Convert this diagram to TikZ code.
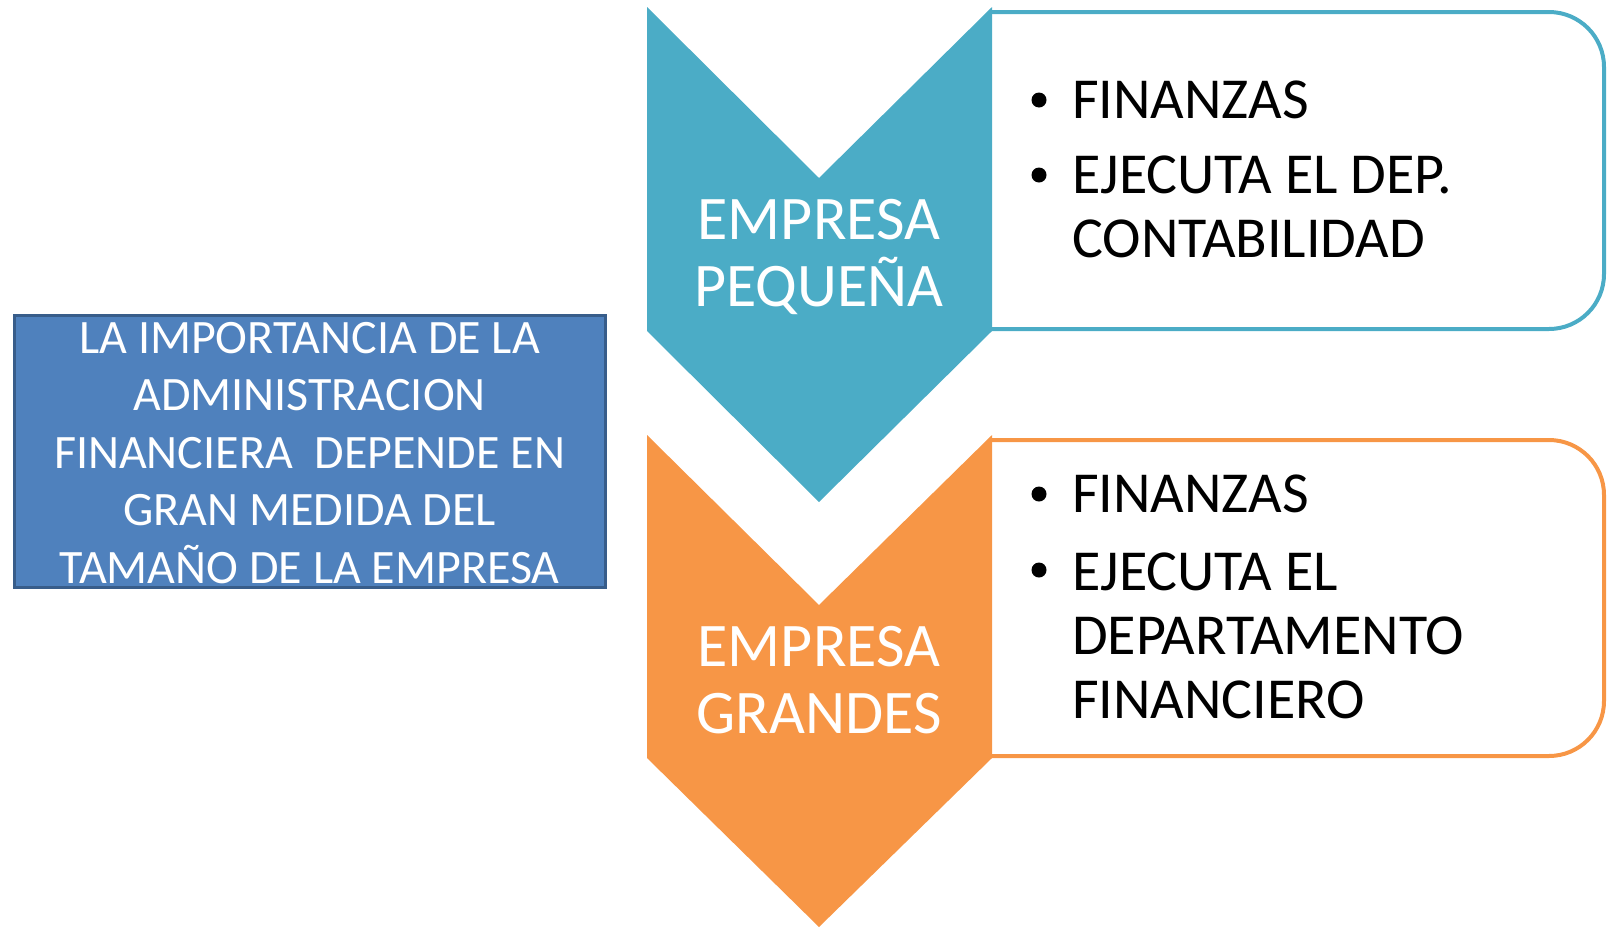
\documentclass[tikz,border=0pt]{standalone}
\usepackage{fontspec}
\setmainfont{Carlito}

\definecolor{SmallColor}{HTML}{4BACC6}
\definecolor{LargeColor}{HTML}{F79646}
\definecolor{TitleColor}{HTML}{4F81BD}
\definecolor{TitleBorder}{HTML}{385D8A}
\tikzstyle{title-box}=[rectangle,
                       draw=TitleBorder,
                       fill=TitleColor,
                       line width=3pt,
                       minimum width=591pt,
                       minimum height=272pt
                      ]
\tikzstyle{title-text}=[text=white, align=center, inner sep=0pt,
                        font=\fontsize{48}{57.5}\selectfont]
\tikzstyle{chevron-text}=[text=white, align=center, inner sep=0pt, anchor=base,
                          font=\fontsize{62}{67}\selectfont]
\tikzstyle{item}=[anchor=base west, align=left, inner sep=0pt,
                  font=\fontsize{58}{64}\selectfont]
\tikzstyle{dot}=[circle, fill=black, inner sep=0pt, minimum size=15pt]

\begin{document}
\begin{tikzpicture}[x=1pt, y=-1pt]
\useasboundingbox (0,0) rectangle (1612,927);

\node at (309.5, 451.5) (title) [title-box] {};
\node at (309.5, 583) (title_text) [title-text, anchor=base] {LA IMPORTANCIA DE LA\\ADMINISTRACION\\FINANCIERA~ DEPENDE EN\\GRAN MEDIDA DEL\\TAMA\~NO DE LA EMPRESA};

% empresa pequena
\draw[SmallColor, line width=4pt, rounded corners=55pt] (992, 12) -- (1604, 12) -- (1604, 329) -- (992, 329);
\fill[SmallColor] (647, 7) -- (819, 178) -- (992, 7) -- (992, 331) -- (819, 502) -- (647, 331) -- cycle;
\node at (819, 306) (small) [chevron-text] {EMPRESA\\PEQUE\~NA};

\node at (1039, 100) (small_dot1) [dot] {};
\node at (1072, 118) (small_item1) [item] {FINANZAS};
\node at (1039, 175) (small_dot2) [dot] {};
\node at (1072, 257) (small_item2) [item] {EJECUTA EL DEP.\\CONTABILIDAD};

% empresa grandes
\draw[LargeColor, line width=4pt, rounded corners=55pt] (992, 440) -- (1604, 440) -- (1604, 756) -- (992, 756);
\fill[LargeColor] (647, 435) -- (819, 605) -- (992, 435) -- (992, 758) -- (819, 927) -- (647, 758) -- cycle;
\node at (819, 733) (large) [chevron-text] {EMPRESA\\GRANDES};

\node at (1039, 494) (large_dot1) [dot] {};
\node at (1072, 512) (large_item1) [item] {FINANZAS};
\node at (1039, 570) (large_dot2) [dot] {};
\node at (1072, 718) (large_item2) [item] {EJECUTA EL\\DEPARTAMENTO\\FINANCIERO};

\end{tikzpicture}
\end{document}
